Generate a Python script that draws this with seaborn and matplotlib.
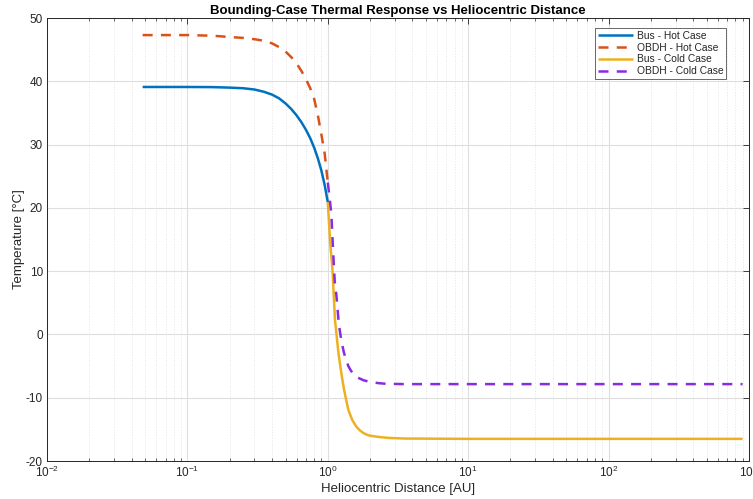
import matplotlib
matplotlib.use("Agg")
import matplotlib.pyplot as plt
import matplotlib.ticker as mticker
import numpy as np
import pandas as pd
import seaborn as sns

# Heliocentric distance [AU] and temperatures [°C] for each bounding case
r_hot = [0.048, 0.1, 0.15, 0.2, 0.25, 0.3, 0.35, 0.4, 0.45, 0.5, 0.55, 0.6, 0.65,
         0.7, 0.75, 0.8, 0.85, 0.9, 0.95, 1.0]
bus_hot = [39.1, 39.1, 39.08, 39.0, 38.9, 38.7, 38.35, 37.9, 37.3, 36.5, 35.6, 34.6, 33.5,
           32.3, 31.0, 29.5, 27.8, 25.9, 23.6, 20.9]
obdh_hot = [47.3, 47.3, 47.2, 47.0, 46.85, 46.65, 46.4, 46.0, 45.4, 44.7, 43.8, 42.8, 41.6,
            40.3, 38.9, 37.2, 34.6, 31.6, 28.6, 24.0]

r_cold_bus = [1.0, 1.04, 1.08, 1.125, 1.19, 1.25, 1.3, 1.35, 1.4, 1.45, 1.5, 1.6, 1.7, 1.8,
              1.9, 2.0, 2.3, 2.7, 3.5, 10, 100, 900]
bus_cold = [20.9, 14.5, 10.2, 2.3, -2.9, -6.2, -8.5, -10.3, -11.9, -12.8, -13.6, -14.6, -15.2,
            -15.6, -15.85, -16.0, -16.2, -16.35, -16.45, -16.5, -16.5, -16.5]

r_cold_obdh = [1.0, 1.03, 1.06, 1.09, 1.12, 1.15, 1.2, 1.25, 1.3, 1.35, 1.4, 1.45, 1.5, 1.6,
               1.7, 1.8, 2.0, 2.3, 2.6, 3.5, 100, 900]
obdh_cold = [24.0, 21.6, 19.0, 13.3, 8.4, 6.3, 1.5, -1.0, -2.8, -4.0, -5.0, -5.6, -6.1, -6.7,
             -7.0, -7.25, -7.5, -7.7, -7.8, -7.85, -7.85, -7.85]

series_names = ["Bus - Hot Case", "OBDH - Hot Case", "Bus - Cold Case", "OBDH - Cold Case"]
series_colors = ["#0072BD", "#D95319", "#EDB120", "#8A2BE2"]
series_dashed = [False, True, False, True]

x_ticks = [1e-2, 1e-1, 1e0, 1e1, 1e2, 1e3]
y_ticks = [-20, -10, 0, 10, 20, 30, 40, 50]

sns.set_theme(style="white")
plt.rcParams["font.family"] = ["Liberation Sans", "DejaVu Sans"]
plt.rcParams["mathtext.fontset"] = "custom"
plt.rcParams["mathtext.rm"] = "Liberation Sans"
plt.rcParams["mathtext.it"] = "Liberation Sans:italic"
plt.rcParams["mathtext.bf"] = "Liberation Sans:bold"
plt.rcParams["axes.unicode_minus"] = False

frames = [
    pd.DataFrame({"r": r_hot, "T": bus_hot}),
    pd.DataFrame({"r": r_hot, "T": obdh_hot}),
    pd.DataFrame({"r": r_cold_bus, "T": bus_cold}),
    pd.DataFrame({"r": r_cold_obdh, "T": obdh_cold}),
]

fig = plt.figure(figsize=(7.53, 4.99), dpi=100)
ax = fig.add_axes([47 / 753, 1 - 461 / 499, (749 - 47) / 753, (461 - 18) / 499])

ink = "#262626"
for df, name, col, dashed in zip(frames, series_names, series_colors, series_dashed):
    sns.lineplot(data=df, x="r", y="T", ax=ax, color=col, linewidth=1.8,
                 label=name, sort=False, estimator=None)
    line = ax.lines[-1]
    if dashed:
        line.set_dashes((4, 3.3))
    line.set_solid_capstyle("butt")
    line.set_dash_capstyle("butt")
    line.set_solid_joinstyle("round")

ax.set_xscale("log")
ax.set_xlim(x_ticks[0], x_ticks[-1])
ax.set_ylim(y_ticks[0], y_ticks[-1])
ax.set_xticks(x_ticks)
ax.set_yticks(y_ticks)
ax.xaxis.set_minor_locator(mticker.LogLocator(base=10, subs=np.arange(2, 10), numticks=20))
ax.xaxis.set_minor_formatter(mticker.NullFormatter())

ax.grid(True, which="major", axis="both", color="#dedede", linewidth=0.8, linestyle="-")
ax.grid(True, which="minor", axis="x", color="#e4e4e4", linewidth=0.7, linestyle=":")
ax.set_axisbelow(True)

for s in ax.spines.values():
    s.set_color(ink)
    s.set_linewidth(0.7)
    s.set_visible(True)

ax.tick_params(axis="both", which="major", direction="in", length=4.5, width=0.6,
               colors=ink, labelsize=8.5, top=True, right=True, pad=3)
ax.tick_params(axis="x", which="minor", direction="in", length=2.5, width=0.5,
               colors=ink, top=True, bottom=True)

ax.set_xlabel("Heliocentric Distance [AU]", fontsize=9.5, color=ink, labelpad=2)
ax.set_ylabel("Temperature [°C]", fontsize=9.5, color=ink)
ax.yaxis.set_label_coords(-0.031, 0.5)
ax.set_title("Bounding-Case Thermal Response vs Heliocentric Distance",
             fontsize=9.5, fontweight="bold", color="black", pad=3)

leg = ax.legend(loc="upper right", bbox_to_anchor=(0.967, 0.977), fontsize=7.4,
                frameon=True, fancybox=False, handlelength=3.4, handletextpad=0.4,
                labelspacing=0.18, borderpad=0.25, borderaxespad=0.0)
leg.get_frame().set_edgecolor("#262626")
leg.get_frame().set_linewidth(0.6)
for t in leg.get_texts():
    t.set_color(ink)

fig.savefig("out.png", dpi=100, facecolor="white")
